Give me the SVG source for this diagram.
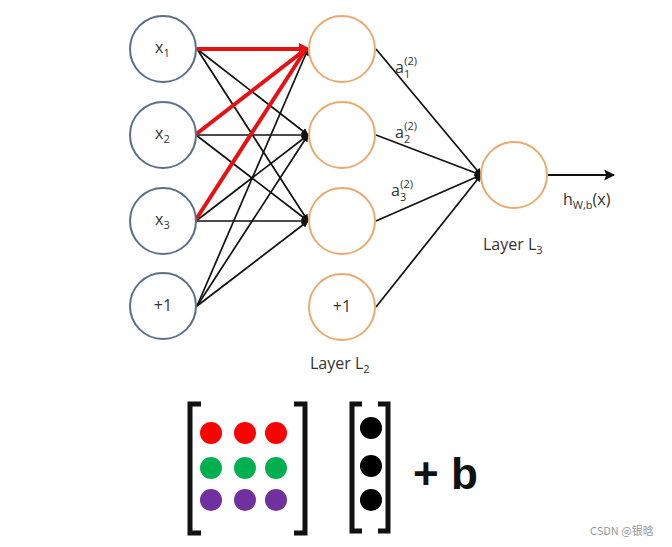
<svg xmlns="http://www.w3.org/2000/svg" width="672" height="547" viewBox="0 0 672 547">
<style>
  .in { fill: #fff; stroke: #5b6f88; stroke-width: 2; }
  .hid { fill: #fff; stroke: #e9aa6e; stroke-width: 2; }
  .lbl { font-family: "Open Sans", "Liberation Sans", sans-serif; font-size: 16px; fill: #333; }
  .sub { font-size: 11px; }
  .e { stroke: #111; stroke-width: 1.7; fill: none; marker-end: url(#ah); }
  .r { stroke: #e81010; stroke-width: 4; fill: none; }
  .br { stroke: #111; stroke-width: 5; fill: none; }
</style>
<defs>
  <marker id="ah" viewBox="0 0 10 10" refX="9" refY="5" markerWidth="8" markerHeight="7" orient="auto" markerUnits="userSpaceOnUse">
    <path d="M0,0 L10,5 L0,10 z" fill="#111"/>
  </marker>
  <marker id="ah2" viewBox="0 0 10 10" refX="9" refY="5" markerWidth="13" markerHeight="11" orient="auto" markerUnits="userSpaceOnUse">
    <path d="M0,0 L10,5 L0,10 L2,5 z" fill="#111"/>
  </marker>
</defs>
<rect width="672" height="547" fill="#fff"/>
<g id="connectors">
  <line class="e" x1="197" y1="49" x2="308" y2="135"/>
  <line class="e" x1="197" y1="49" x2="308" y2="221"/>
  <line class="e" x1="196" y1="135" x2="308" y2="135"/>
  <line class="e" x1="196" y1="135" x2="308" y2="221"/>
  <line class="e" x1="196" y1="221" x2="308" y2="135"/>
  <line class="e" x1="196" y1="221" x2="308" y2="221"/>
  <line class="e" x1="197" y1="306" x2="308" y2="49"/>
  <line class="e" x1="197" y1="306" x2="308" y2="135"/>
  <line class="e" x1="197" y1="306" x2="308" y2="221"/>
  <line class="r" x1="197" y1="49" x2="306" y2="49"/>
  <line class="r" x1="195" y1="135" x2="306" y2="49"/>
  <line class="r" x1="195" y1="221" x2="306" y2="49"/>
  <path d="M299,43 L311,49 L299,55 z" fill="#e81010"/>
  <line class="e" x1="376" y1="49" x2="481" y2="175"/>
  <line class="e" x1="376" y1="135" x2="481" y2="175"/>
  <line class="e" x1="376" y1="221" x2="481" y2="175"/>
  <line class="e" x1="376" y1="307" x2="481" y2="175"/>
  <line x1="548" y1="175" x2="614" y2="175" stroke="#111" stroke-width="2" marker-end="url(#ah2)"/>
</g>
<g id="x1"><circle class="in" cx="163" cy="49" r="33"/><text class="lbl" x="155" y="53">x<tspan class="sub" dy="4">1</tspan></text></g>
<g id="x2"><circle class="in" cx="163" cy="135" r="33"/><text class="lbl" x="155" y="139">x<tspan class="sub" dy="4">2</tspan></text></g>
<g id="x3"><circle class="in" cx="163" cy="221" r="33"/><text class="lbl" x="155" y="225">x<tspan class="sub" dy="4">3</tspan></text></g>
<g id="b1"><circle class="in" cx="163" cy="306" r="33"/><text class="lbl" x="163" y="311" text-anchor="middle">+1</text></g>
<g id="h1"><circle class="hid" cx="342" cy="49" r="33"/></g>
<g id="h2"><circle class="hid" cx="342" cy="135" r="33"/></g>
<g id="h3"><circle class="hid" cx="342" cy="221" r="33"/></g>
<g id="b2"><circle class="hid" cx="342" cy="307" r="33"/><text class="lbl" x="342" y="312" text-anchor="middle">+1</text></g>
<g id="out"><circle class="hid" cx="514" cy="175" r="33"/></g>
<g id="labels">
  <text class="lbl" x="395" y="73">a<tspan class="sub" dy="5">1</tspan><tspan class="sub" dx="-6" dy="-13">(2)</tspan></text>
  <text class="lbl" x="395" y="138">a<tspan class="sub" dy="5">2</tspan><tspan class="sub" dx="-6" dy="-13">(2)</tspan></text>
  <text class="lbl" x="391" y="196">a<tspan class="sub" dy="5">3</tspan><tspan class="sub" dx="-6" dy="-13">(2)</tspan></text>
  <text class="lbl" x="563" y="205">h<tspan class="sub" dy="4">W,b</tspan><tspan dy="-4">(x)</tspan></text>
  <text class="lbl" x="483" y="250">Layer L<tspan class="sub" dy="4">3</tspan></text>
  <text class="lbl" x="310" y="369">Layer L<tspan class="sub" dy="4">2</tspan></text>
</g>
<g id="matrix">
  <path class="br" d="M201,404 L190,404 L190,533 L201,533"/>
  <path class="br" d="M294,404 L305,404 L305,533 L294,533"/>
  <circle cx="211" cy="433" r="11" fill="#f00"/>
  <circle cx="245" cy="433" r="11" fill="#f00"/>
  <circle cx="276" cy="433" r="11" fill="#f00"/>
  <circle cx="211" cy="468" r="11" fill="#00b050"/>
  <circle cx="245" cy="468" r="11" fill="#00b050"/>
  <circle cx="276" cy="468" r="11" fill="#00b050"/>
  <circle cx="211" cy="500" r="11" fill="#7030a0"/>
  <circle cx="245" cy="500" r="11" fill="#7030a0"/>
  <circle cx="276" cy="500" r="11" fill="#7030a0"/>
</g>
<g id="vector">
  <path class="br" d="M362,404 L352,404 L352,531 L362,531"/>
  <path class="br" d="M378,404 L388,404 L388,531 L378,531"/>
  <circle cx="371" cy="428" r="11" fill="#000"/>
  <circle cx="371" cy="466" r="11" fill="#000"/>
  <circle cx="371" cy="500" r="11" fill="#000"/>
  <text x="413" y="489" font-family="Liberation Sans, Arial, sans-serif" font-weight="bold" font-size="44" fill="#111">+ b</text>
</g>
<text x="590" y="535" font-family="Noto Sans CJK SC, sans-serif" font-size="11" fill="#999">CSDN @银晗</text>
</svg>
